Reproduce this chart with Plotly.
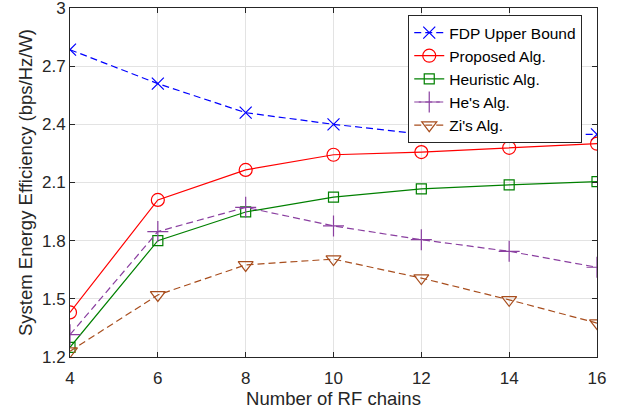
import plotly.graph_objects as go

rf_chains = [4, 6, 8, 10, 12, 14, 16]
fdp_upper = [2.785, 2.61, 2.46, 2.40, 2.35, 2.35, 2.348]
proposed = [1.43, 2.01, 2.165, 2.243, 2.257, 2.279, 2.30]
heuristic = [1.25, 1.80, 1.948, 2.025, 2.067, 2.088, 2.104]
hes = [1.315, 1.847, 1.972, 1.876, 1.805, 1.745, 1.663]
zis = [1.23, 1.52, 1.675, 1.705, 1.607, 1.495, 1.375]

y_ticks = [1.2, 1.5, 1.8, 2.1, 2.4, 2.7, 3.0]
y_tick_labels = ["1.2", "1.5", "1.8", "2.1", "2.4", "2.7", "3"]

series = [
    ("FDP Upper Bound", fdp_upper, "#0000FF", "dash", "x-thin-open", 12),
    ("Proposed Alg.", proposed, "#FF0000", "solid", "circle-open", 13),
    ("Heuristic Alg.", heuristic, "#008000", "solid", "square-open", 10),
    ("He's Alg.", hes, "#8A3FA0", "dash", "cross-thin-open", 15),
    ("Zi's Alg.", zis, "#A84E1E", "dash", "triangle-down-open", 13),
]

fig = go.Figure()
for name, vals, color, dash, symbol, size in series:
    fig.add_trace(go.Scatter(
        x=rf_chains, y=vals, name=name, mode="lines+markers",
        line=dict(color=color, width=1.2, dash="7px,4px" if dash == "dash" else "solid"),
        marker=dict(symbol=symbol, size=size, color=color,
                    line=dict(color=color, width=1.2)),
    ))

axis_common = dict(
    showline=True, linecolor="#262626", linewidth=1, mirror="ticks",
    ticks="inside", ticklen=5, tickcolor="#262626",
    showgrid=True, gridcolor="#E3E3E3", gridwidth=1,
    zeroline=False, tickfont=dict(size=17, color="#262626"),
    ticklabeloverflow="allow", automargin=False,
)

fig.update_layout(
    width=630, height=415,
    margin=dict(l=70, r=33, t=8, b=58),
    paper_bgcolor="white", plot_bgcolor="white",
    font=dict(family="Liberation Sans, Arial, sans-serif", color="#262626"),
    xaxis=dict(range=[4, 16], tickvals=rf_chains, ticklabelstandoff=6,
               title=dict(text="Number of RF chains", font=dict(size=18.5), standoff=4),
               **axis_common),
    yaxis=dict(range=[1.2, 3.0], tickvals=y_ticks, ticktext=y_tick_labels,
               title=dict(text="System Energy Efficiency (bps/Hz/W)", font=dict(size=18.5), standoff=4),
               **axis_common),
    legend=dict(x=0.972, y=0.98, xanchor="right", yanchor="top",
                bgcolor="white", bordercolor="#262626", borderwidth=1,
                font=dict(size=15.5, color="black"), tracegroupgap=0,
                itemwidth=30),
    showlegend=True,
)

fig.write_html("out.html")
